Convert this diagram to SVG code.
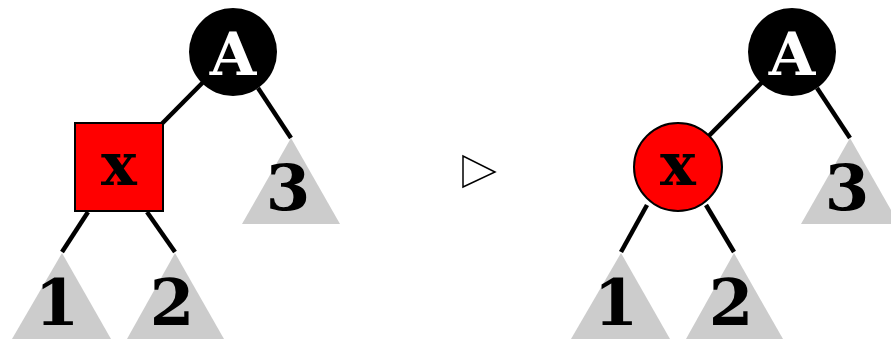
<svg xmlns="http://www.w3.org/2000/svg" width="891" height="339" viewBox="0 0 891 339">
<style>
.edge{stroke:#000;stroke-width:4.5;fill:none}
.sub{fill:#cccccc}
.lbl{font-family:"DejaVu Serif","Liberation Serif",serif;font-weight:bold;font-size:60px;text-anchor:middle}
.num{font-size:64px}
.black{fill:#000}
.red{fill:#ff0000;stroke:#000;stroke-width:2}
</style>
<rect width="891" height="339" fill="#fff"/>
<g id="connectors">
<line class="edge" x1="233" y1="52" x2="119" y2="167"/>
<line class="edge" x1="258" y1="88" x2="291" y2="138"/>
<line class="edge" x1="88" y1="212" x2="62" y2="252"/>
<line class="edge" x1="147" y1="212" x2="175" y2="252"/>
<line class="edge" x1="792" y1="52" x2="678" y2="167"/>
<line class="edge" x1="817" y1="88" x2="850" y2="138"/>
<line class="edge" x1="647" y1="205" x2="621" y2="252"/>
<line class="edge" x1="706" y1="205" x2="734" y2="252"/>
</g>
<g id="left-A"><circle class="black" cx="233" cy="52" r="44"/><text class="lbl" x="233" y="75" fill="#fff">A</text></g>
<g id="left-x"><rect class="red" x="75" y="123" width="88" height="88"/><text class="lbl" x="119" y="185">x</text></g>
<g id="left-3"><polygon class="sub" points="291,138 242,224 340,224"/><text class="lbl num" x="288" y="210">3</text></g>
<g id="left-1"><polygon class="sub" points="62,253 12,339 111,339"/><text class="lbl num" x="57" y="325">1</text></g>
<g id="left-2"><polygon class="sub" points="175,253 127,339 224,339"/><text class="lbl num" x="172" y="325">2</text></g>
<g id="arrow"><polygon points="463,156 463,187 495,172" fill="none" stroke="#000" stroke-width="1.5"/></g>
<g id="right-A"><circle class="black" cx="792" cy="52" r="44"/><text class="lbl" x="792" y="75" fill="#fff">A</text></g>
<g id="right-x"><circle class="red" cx="678" cy="167" r="44"/><text class="lbl" x="678" y="185">x</text></g>
<g id="right-3"><polygon class="sub" points="850,138 801,224 899,224"/><text class="lbl num" x="847" y="210">3</text></g>
<g id="right-1"><polygon class="sub" points="621,253 571,339 670,339"/><text class="lbl num" x="616" y="325">1</text></g>
<g id="right-2"><polygon class="sub" points="734,253 686,339 783,339"/><text class="lbl num" x="731" y="325">2</text></g>
</svg>
